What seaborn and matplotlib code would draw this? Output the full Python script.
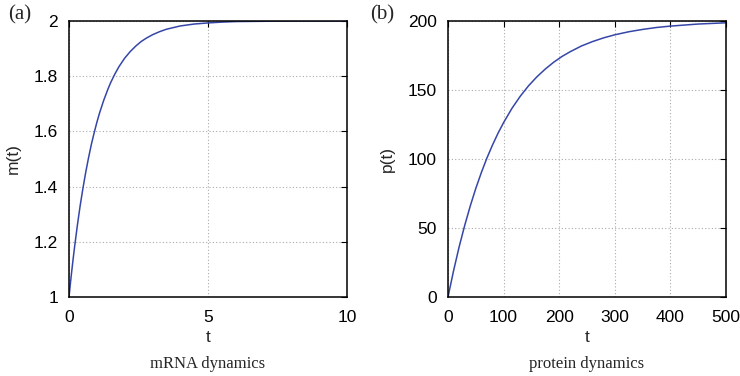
import matplotlib
matplotlib.use("Agg")
import matplotlib.pyplot as plt
import seaborn as sns
import pandas as pd

# mRNA dynamics (panel a)
t_m = [0, 0.05, 0.1, 0.15, 0.2, 0.3, 0.4, 0.5, 0.6, 0.7, 0.8, 0.9, 1.0, 1.1, 1.25, 1.4, 1.5,
       1.65, 1.8, 2.0, 2.2, 2.4, 2.6, 2.8, 3.0, 3.25, 3.5, 3.75, 4.0, 4.5, 5.0, 5.5, 6.0,
       7.0, 8.0, 9.0, 10.0]
m_vals = [1.0, 1.049, 1.095, 1.139, 1.181, 1.259, 1.330, 1.393, 1.451, 1.503, 1.551, 1.593,
          1.632, 1.667, 1.713, 1.753, 1.777, 1.808, 1.835, 1.865, 1.889, 1.909, 1.926,
          1.939, 1.950, 1.961, 1.970, 1.976, 1.982, 1.989, 1.993, 1.996, 1.998,
          1.999, 2.0, 2.0, 2.0]

# protein dynamics (panel b)
t_p = [0, 10, 20, 30, 40, 50, 60, 70, 80, 90, 100, 115, 130, 145, 160, 175, 190, 205, 220,
       240, 260, 280, 300, 325, 350, 375, 400, 450, 500]
p_vals = [0, 19.0, 36.3, 51.8, 65.9, 78.7, 90.2, 100.7, 110.1, 118.7, 126.4, 136.7, 145.5,
          153.1, 159.6, 165.2, 170.1, 174.3, 177.8, 181.9, 185.1, 187.8, 190.0, 192.2,
          193.9, 195.3, 196.3, 197.8, 198.7]

m_xticks = [0, 5, 10]
m_yticks = [1, 1.2, 1.4, 1.6, 1.8, 2]
m_ylabels = ["1", "1.2", "1.4", "1.6", "1.8", "2"]
p_xticks = [0, 100, 200, 300, 400, 500]
p_yticks = [0, 50, 100, 150, 200]

panel_labels = ["(a)", "(b)"]
ylabels = ["m(t)", "p(t)"]
captions = ["mRNA dynamics", "protein dynamics"]

sns.set_style("white")
plt.rcParams["font.family"] = ["Liberation Sans", "DejaVu Sans"]

line_color = "#3646a8"
fig = plt.figure(figsize=(7.4, 3.76), dpi=100)
ax_a = fig.add_axes([69/740, 1-297/376, 278/740, 276/376])
ax_b = fig.add_axes([448/740, 1-297/376, 278/740, 276/376])

df_m = pd.DataFrame({"t": t_m, "m": m_vals})
df_p = pd.DataFrame({"t": t_p, "p": p_vals})
sns.lineplot(data=df_m, x="t", y="m", ax=ax_a, color=line_color, lw=1.1)
sns.lineplot(data=df_p, x="t", y="p", ax=ax_b, color=line_color, lw=1.1)

ax_a.set_xlim(0, 10); ax_a.set_ylim(1, 2)
ax_a.set_xticks(m_xticks); ax_a.set_yticks(m_yticks)
ax_a.set_yticklabels(m_ylabels)
ax_b.set_xlim(0, 500); ax_b.set_ylim(0, 200)
ax_b.set_xticks(p_xticks); ax_b.set_yticks(p_yticks)

for i, ax in enumerate([ax_a, ax_b]):
    ax.grid(True, linestyle=(0, (1, 2)), color="#aaaaaa", lw=0.8)
    for s in ax.spines.values():
        s.set_color("black"); s.set_linewidth(1.1); s.set_visible(True)
    ax.tick_params(direction="in", length=4, width=0.8, top=True, right=True,
                   labelsize=12.5, colors="black")
    ax.tick_params(axis="x", pad=9)
    ax.tick_params(axis="y", pad=8)
    ax.set_xlabel("t", fontsize=12.5, labelpad=4)
    ax.set_ylabel(ylabels[i], fontsize=12.5, labelpad=9)
    ax.text(0.5, -0.243, captions[i], transform=ax.transAxes, ha="center", va="center",
            fontsize=12, family=["Liberation Serif"])

fig.text(8/740, 1-15/376, panel_labels[0], fontsize=15, family=["Liberation Serif"],
         ha="left", va="center")
fig.text(370/740, 1-15/376, panel_labels[1], fontsize=15, family=["Liberation Serif"],
         ha="left", va="center")

fig.savefig("out.png", dpi=100)
